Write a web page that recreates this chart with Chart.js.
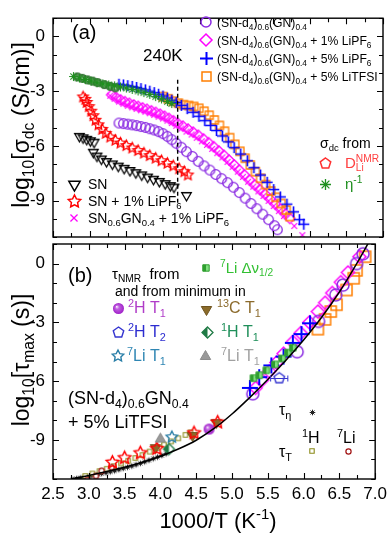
<!DOCTYPE html>
<html>
<head>
<meta charset="utf-8">
<script src="https://cdn.jsdelivr.net/npm/chart.js@4.4.1/dist/chart.umd.min.js"></script>
<style>
  html, body { margin: 0; padding: 0; background: #fff; }
  #wrap { position: relative; width: 392px; height: 541px; }
  #wrap canvas { position: absolute; left: 0; top: 0; }
</style>
</head>
<body>
<div id="wrap">
  <canvas id="chartA" width="392" height="541"></canvas>
  <canvas id="chartB" width="392" height="541"></canvas>
</div>
<script>
const FONT = "'Liberation Sans', Arial, sans-serif";

// ---- axes ----
const xTicks = [2.5, 2.75, 3, 3.25, 3.5, 3.75, 4, 4.25, 4.5, 4.75, 5, 5.25, 5.5, 5.75, 6, 6.25, 6.5, 6.75, 7];
const xLabels = [2.5, 3, 3.5, 4, 4.5, 5, 5.5, 6, 6.5, 7];
const yTicks = [-11, -10, -9, -8, -7, -6, -5, -4, -3, -2, -1, 0, 1];
const yLabels = [-9, -6, -3, 0];

// ---- panel (a): log10 sigma_dc vs 1000/T ----
const aPurple = [[3.40,-4.75],[3.46,-4.78],[3.52,-4.81],[3.58,-4.85],[3.64,-4.89],[3.70,-4.94],[3.76,-4.99],[3.82,-5.06],[3.88,-5.13],[3.94,-5.22],[4.00,-5.33],[4.06,-5.48],[4.12,-5.66],[4.18,-5.86],[4.25,-6.08],[4.32,-6.32],[4.40,-6.58],[4.48,-6.85],[4.56,-7.10],[4.64,-7.33],[4.72,-7.57],[4.80,-7.80],[4.88,-8.02],[4.96,-8.27],[5.04,-8.56],[5.12,-8.87],[5.20,-9.16],[5.28,-9.45],[5.36,-9.75],[5.44,-10.05],[5.52,-10.38],[5.56,-10.60]];
const aDiamond = [[3.30,-3.20],[3.36,-3.35],[3.42,-3.48],[3.48,-3.58],[3.54,-3.67],[3.60,-3.76],[3.66,-3.84],[3.72,-3.92],[3.78,-4.00],[3.84,-4.08],[3.90,-4.17],[3.96,-4.27],[4.02,-4.38],[4.08,-4.50],[4.14,-4.63],[4.20,-4.77],[4.27,-4.92],[4.34,-5.08],[4.41,-5.25],[4.48,-5.42],[4.55,-5.62],[4.62,-5.83],[4.69,-6.05],[4.76,-6.28],[4.83,-6.52],[4.90,-6.78],[4.97,-7.05],[5.04,-7.33],[5.11,-7.60],[5.18,-7.88],[5.25,-8.15],[5.32,-8.40],[5.39,-8.65],[5.46,-8.92],[5.53,-9.20],[5.60,-9.47],[5.67,-9.75],[5.73,-9.98]];
const aCrossX = [[3.28,-3.25],[3.34,-3.42],[3.40,-3.57],[3.46,-3.69],[3.52,-3.80],[3.58,-3.89],[3.64,-3.97],[3.70,-4.05],[3.76,-4.13],[3.82,-4.21],[3.88,-4.30],[3.94,-4.40],[4.00,-4.50],[4.06,-4.62],[4.12,-4.75],[4.18,-4.90],[4.25,-5.05],[4.32,-5.22],[4.39,-5.38],[4.46,-5.56],[4.53,-5.75],[4.60,-5.95],[4.67,-6.17],[4.74,-6.40],[4.81,-6.63],[4.88,-6.88],[4.95,-7.15],[5.02,-7.42],[5.09,-7.70],[5.16,-7.97],[5.23,-8.24],[5.30,-8.50],[5.37,-8.75],[5.44,-9.02],[5.51,-9.30],[5.58,-9.58],[5.65,-9.85],[5.79,-10.40],[5.90,-10.90]];
const aBlue = [[3.40,-2.62],[3.46,-2.66],[3.52,-2.70],[3.58,-2.74],[3.64,-2.80],[3.70,-2.86],[3.76,-2.93],[3.82,-3.00],[3.88,-3.08],[3.94,-3.17],[4.00,-3.27],[4.06,-3.38],[4.12,-3.50],[4.18,-3.63],[4.25,-3.78],[4.33,-3.96],[4.41,-4.16],[4.49,-4.38],[4.57,-4.62],[4.65,-4.88],[4.73,-5.16],[4.81,-5.46],[4.89,-5.78],[4.97,-6.10],[5.06,-6.45],[5.15,-6.82],[5.24,-7.20],[5.33,-7.60],[5.42,-8.00],[5.51,-8.40],[5.60,-8.80],[5.69,-9.20],[5.78,-9.62],[5.86,-10.05],[5.92,-10.30]];
const aOrange = [[4.00,-3.30],[4.07,-3.42],[4.14,-3.55],[4.21,-3.66],[4.28,-3.74],[4.35,-3.79],[4.42,-3.84],[4.49,-3.94],[4.56,-4.10],[4.63,-4.32],[4.70,-4.58],[4.77,-4.88],[4.84,-5.20],[4.91,-5.55],[4.98,-5.92],[5.05,-6.30],[5.12,-6.68],[5.19,-7.05],[5.26,-7.42],[5.33,-7.78],[5.40,-8.13],[5.47,-8.48],[5.54,-8.82],[5.61,-9.16],[5.68,-9.52],[5.73,-9.88]];
const aRedStar = [[2.91,-3.32],[2.94,-3.45],[2.96,-3.62],[2.99,-3.85],[3.02,-4.10],[3.05,-4.35],[3.08,-4.60],[3.12,-4.85],[3.17,-5.10],[3.22,-5.32],[3.28,-5.52],[3.35,-5.70],[3.42,-5.85],[3.50,-5.99],[3.58,-6.12],[3.66,-6.26],[3.74,-6.40],[3.82,-6.54],[3.90,-6.68],[3.98,-6.82],[4.06,-6.96],[4.14,-7.10],[4.22,-7.26],[4.29,-7.42],[4.34,-7.60]];
const aSN = [[2.86,-5.48],[2.91,-5.56],[2.96,-5.64],[3.01,-5.72],[3.06,-5.80],[3.05,-6.35],[3.10,-6.56],[3.16,-6.72],[3.23,-6.86],[3.31,-6.99],[3.39,-7.11],[3.47,-7.23],[3.55,-7.35],[3.63,-7.47],[3.71,-7.59],[3.79,-7.71],[3.87,-7.83],[3.95,-7.95],[4.03,-8.07],[4.10,-8.18],[4.15,-8.26],[4.32,-8.72]];
const aEta = [[2.78,-2.20],[2.86,-2.28],[2.94,-2.36],[3.02,-2.45],[3.10,-2.54],[3.18,-2.60],[3.26,-2.66],[3.34,-2.71],[3.42,-2.77],[3.50,-2.83],[3.58,-2.91],[3.66,-2.99],[3.74,-3.08],[3.82,-3.18],[3.90,-3.30],[3.98,-3.43],[4.06,-3.57],[4.12,-3.68]];
const aBall = [[2.83,-2.22],[2.90,-2.30],[2.97,-2.38],[3.04,-2.45],[3.11,-2.53],[3.20,-2.64],[3.28,-2.74],[3.35,-2.82]];
const aLine240K = [[4.2,-2.37],[4.2,-9.2]];

// ---- panel (b): log10 tau_max vs 1000/T ----
const bCurve = [[2.75,-11.0],[3.0,-10.82],[3.25,-10.62],[3.5,-10.4],[3.75,-10.14],[4.0,-9.84],[4.25,-9.47],[4.5,-9.02],[4.75,-8.42],[5.0,-7.68],[5.25,-6.83],[5.5,-5.92],[5.75,-4.95],[6.0,-3.9],[6.25,-2.75],[6.5,-1.45],[6.75,0.05],[6.92,1.15]];
const bPurple = [[5.29,-6.65],[5.91,-4.50],[6.21,-2.95],[6.45,-1.60],[6.55,-1.10],[6.74,0.00],[6.83,0.50]];
const bMagenta = [[5.33,-6.35],[5.42,-5.95],[5.52,-5.50],[5.62,-5.05],[5.72,-4.60],[5.85,-4.00],[5.96,-3.55],[6.08,-3.00],[6.20,-2.45],[6.30,-2.00],[6.40,-1.50],[6.52,-0.95],[6.62,-0.45],[6.78,0.35]];
const bOrange = [[6.20,-3.35],[6.30,-2.85],[6.38,-2.45],[6.46,-2.10],[6.60,-1.35],[6.70,-0.75],[6.74,-0.35],[6.86,0.35]];
const bBlue = [[5.25,-6.35],[5.38,-5.80],[5.55,-5.20],[5.72,-4.75],[5.85,-4.05],[5.97,-3.60],[6.09,-3.05]];
const bLiWidth = [[5.30,-5.85],[5.38,-5.70],[5.48,-5.45],[5.60,-5.15],[5.70,-4.85],[5.78,-4.55],[5.85,-4.30]];
const bH2T2 = [[5.66,-5.85]];
const bH2T2Err = [0.12];
const bRedStar = [[3.33,-10.15],[3.50,-9.92],[3.72,-9.67],[3.95,-9.45],[4.47,-8.65],[4.80,-8.10]];
const bC13 = [[3.93,-9.40],[4.45,-8.78],[4.78,-8.12]];
const bH2T1 = [[4.68,-8.45]];
const bLi7T1grey = [[4.00,-8.96]];
const bLi7T1 = [[4.16,-8.86]];
const bH1T1 = [[4.12,-9.47]];
const bTauEta = [[2.78,-11.02],[2.83,-10.98],[2.88,-10.95],[2.93,-10.91],[2.98,-10.88],[3.03,-10.84],[3.08,-10.80],[3.13,-10.76],[3.18,-10.72],[3.24,-10.68],[3.30,-10.63],[3.36,-10.58],[3.42,-10.52],[3.48,-10.46],[3.54,-10.40],[3.60,-10.34],[3.66,-10.27],[3.72,-10.20],[3.78,-10.12],[3.84,-10.04],[3.90,-9.96],[3.96,-9.88],[4.02,-9.80],[4.08,-9.71]];
const bTauT1H = [[2.95,-10.85],[3.05,-10.72],[3.15,-10.60],[3.25,-10.48],[3.35,-10.35],[3.45,-10.20],[3.55,-10.07],[3.65,-9.93],[3.75,-9.78],[3.85,-9.60],[3.95,-9.42],[4.05,-9.25],[4.15,-9.08],[4.25,-8.92],[4.35,-8.75],[4.42,-8.62]];
const bTauT7Li = [[2.98,-11.05],[3.10,-10.85],[3.18,-10.58],[3.32,-10.40]];

// symbol sprites, used as Chart.js pointStyle and in the hand-drawn legends
function sym(kind, r, color, o = {}) {
    const lw = o.lw || 1.3;
    const s = Math.ceil(2 * r + lw + 4);
    const c = document.createElement('canvas');
    c.width = c.height = s;
    const g = c.getContext('2d');
    const cx = s / 2, cy = s / 2;
    g.lineWidth = lw;
    g.strokeStyle = color;
    const poly = (n, r0, r1, a0) => {
        g.beginPath();
        for (let i = 0; i < n; i++) {
            const rr = (i % 2 && r1) ? r1 : r0;
            const a = a0 + i * 2 * Math.PI / n;
            const px = cx + rr * Math.cos(a), py = cy + rr * Math.sin(a);
            i ? g.lineTo(px, py) : g.moveTo(px, py);
        }
        g.closePath();
    };
    const d = r * Math.SQRT1_2;
    switch (kind) {
        case 'circle': g.beginPath(); g.arc(cx, cy, r, 0, 2 * Math.PI); break;
        case 'square': g.beginPath(); g.rect(cx - r, cy - r, 2 * r, 2 * r); break;
        case 'diamond': poly(4, r, 0, -Math.PI / 2); break;
        case 'triUp': poly(3, r, 0, -Math.PI / 2); break;
        case 'triDown': poly(3, r, 0, Math.PI / 2); break;
        case 'star': poly(10, r, r * 0.5, -Math.PI / 2); break;
        case 'pent': poly(5, r, 0, -Math.PI / 2); break;
        case 'plus':
            g.beginPath(); g.moveTo(cx - r, cy); g.lineTo(cx + r, cy); g.moveTo(cx, cy - r); g.lineTo(cx, cy + r); break;
        case 'cross':
            g.beginPath(); g.moveTo(cx - d, cy - d); g.lineTo(cx + d, cy + d); g.moveTo(cx + d, cy - d); g.lineTo(cx - d, cy + d); break;
        case 'ast':
            g.beginPath(); g.moveTo(cx - r, cy); g.lineTo(cx + r, cy); g.moveTo(cx, cy - r); g.lineTo(cx, cy + r);
            g.moveTo(cx - d, cy - d); g.lineTo(cx + d, cy + d); g.moveTo(cx + d, cy - d); g.lineTo(cx - d, cy + d); break;
        case 'ball': {
            const hx = cx + (o.hx || 0) * r, hy = cy + (o.hy || 0) * r;
            const gr = g.createRadialGradient(hx, hy, 0, cx, cy, r);
            gr.addColorStop(0, '#ffffff');
            gr.addColorStop(0.35, o.mid || color);
            gr.addColorStop(1, color);
            g.fillStyle = gr;
            g.beginPath(); g.arc(cx, cy, r, 0, 2 * Math.PI); g.fill();
            return c;
        }
    }
    if (o.fill) { g.fillStyle = o.fill; g.fill(); }
    if (o.half) {
        g.save(); g.clip();
        g.fillStyle = o.half;
        g.fillRect(0, 0, cx, s);
        g.restore();
    }
    g.stroke();
    return c;
}

// text with _{sub} and ^{sup}; a ^{} right after a _{} is stacked over it
function rich(ctx, str, x, y, size, color, align) {
    const parts = [];
    const re = /([_^])\{([^}]*)\}|([^_^]+)/g;
    let m;
    while ((m = re.exec(str))) {
        if (m[3] !== undefined) parts.push({ t: m[3], k: '' });
        else parts.push({ t: m[2], k: m[1] });
    }
    let w = 0, prev = null;
    parts.forEach(p => {
        p.fs = p.k ? size * 0.68 : size;
        ctx.font = p.fs + 'px ' + FONT;
        p.w = ctx.measureText(p.t).width;
        if (p.k === '^' && prev && prev.k === '_') { p.stack = true; w += Math.max(0, p.w - prev.w); }
        else w += p.w;
        prev = p;
    });
    let cx = align === 'center' ? x - w / 2 : align === 'right' ? x - w : x;
    ctx.fillStyle = color || '#000';
    ctx.textAlign = 'left';
    ctx.textBaseline = 'alphabetic';
    let last = null, lastX = 0;
    parts.forEach(p => {
        ctx.font = p.fs + 'px ' + FONT;
        const dy = p.k === '_' ? size * 0.22 : p.k === '^' ? -size * 0.4 : 0;
        if (p.stack) {
            ctx.fillText(p.t, lastX, y + dy);
            cx = lastX + Math.max(last.w, p.w);
        } else {
            ctx.fillText(p.t, cx, y + dy);
            lastX = cx;
            cx += p.w;
        }
        last = p;
    });
}

function put(ctx, sprite, x, y) {
    ctx.drawImage(sprite, Math.round(x - sprite.width / 2), Math.round(y - sprite.height / 2));
}

function yTitle(ctx, str, x, y) {
    ctx.save();
    ctx.translate(x, y);
    ctx.rotate(-Math.PI / 2);
    rich(ctx, str, 0, 0, 23, '#000', 'center');
    ctx.restore();
}

// box with inward ticks on all four sides
function drawFrame(chart) {
    const { ctx, chartArea: a, scales: { x, y } } = chart;
    ctx.save();
    ctx.strokeStyle = '#000';
    ctx.lineWidth = 1.1;
    ctx.beginPath();
    xTicks.forEach(v => {
        const px = Math.round(x.getPixelForValue(v)) + 0.5;
        const L = xLabels.includes(v) ? 6 : 4;
        ctx.moveTo(px, a.bottom); ctx.lineTo(px, a.bottom - L);
        ctx.moveTo(px, a.top); ctx.lineTo(px, a.top + L);
    });
    yTicks.forEach(v => {
        const py = Math.round(y.getPixelForValue(v)) + 0.5;
        const L = yLabels.includes(v) ? 6 : 4;
        ctx.moveTo(a.left, py); ctx.lineTo(a.left + L, py);
        ctx.moveTo(a.right, py); ctx.lineTo(a.right - L, py);
    });
    ctx.stroke();
    ctx.lineWidth = 1.4;
    ctx.strokeRect(a.left, a.top, a.right - a.left, a.bottom - a.top);
    ctx.restore();
}

const S = {
    purple: sym('circle', 4.8, '#8a2be2'),
    diamond: sym('diamond', 5.2, '#ff00ff'),
    xMag: sym('cross', 4, '#ff00ff', { lw: 1.2 }),
    plus: sym('plus', 5.5, '#0000ff', { lw: 1.6 }),
    square: sym('square', 4, '#ff7f00'),
    redStar: sym('star', 5.5, '#ff0000'),
    tri: sym('triDown', 5.5, '#000'),
    eta: sym('ast', 4.5, '#1f8f1f', { lw: 1.1 }),
    ball: sym('ball', 4.5, '#2d6a2d', { mid: '#6a9a6a' }),
    // legend sizes
    Lpurple: sym('circle', 5, '#8a2be2', { lw: 1.5 }),
    Ldiamond: sym('diamond', 6, '#ff00ff', { lw: 1.5 }),
    Lplus: sym('plus', 6.5, '#0000ff', { lw: 2 }),
    Lsquare: sym('square', 4.5, '#ff7f00', { lw: 1.5 }),
    Ltri: sym('triDown', 6.5, '#000', { lw: 1.5 }),
    LredStar: sym('star', 6.5, '#ff0000', { lw: 1.5 }),
    LxMag: sym('cross', 5, '#ff00ff', { lw: 1.3 }),
    Lpent: sym('pent', 5.5, '#ff3030', { lw: 1.5 }),
    Leta: sym('ast', 5.5, '#1f8f1f', { lw: 1.3 }),
    // panel b
    bPurple: sym('circle', 6, '#8a2be2', { lw: 1.5 }),
    bDiamond: sym('diamond', 6.5, '#ff00ff', { lw: 1.5 }),
    bSquare: sym('square', 5.5, '#ff7f00', { lw: 1.5 }),
    bPlus: sym('plus', 8, '#0000ff', { lw: 2 }),
    liWidth: sym('square', 3.2, '#2f9f2f', { lw: 1, fill: '#7fe07f', half: '#2f9f2f' }),
    h2t2: sym('pent', 5.5, '#3535d0', { lw: 1.4 }),
    h2t1: sym('ball', 5.5, '#a020c8', { hx: -0.35, hy: -0.35, mid: '#c060e0' }),
    c13: sym('triDown', 6, '#6f5420', { lw: 1, fill: '#8b6b2a' }),
    h1t1: sym('diamond', 5.5, '#1f7a45', { lw: 1.3, fill: '#ffffff', half: '#1f7a45' }),
    li7t1: sym('star', 6, '#2a7fa8', { lw: 1.4 }),
    li7t1grey: sym('triUp', 6, '#8c8c8c', { lw: 1, fill: '#999999' }),
    tauEta: sym('ast', 2.8, '#222', { lw: 1 }),
    tauT1H: sym('square', 2.2, '#8b8b1a', { lw: 1.1, fill: '#ffffff' }),
    tauT7Li: sym('circle', 2.6, '#a01010', { lw: 1.2, fill: '#ffffff' }),
    bRedStar: sym('star', 6.5, '#ff0000', { lw: 1.5 })
};

const pts = arr => arr.map(([x, y]) => ({ x, y }));
const ds = (arr, style) => ({ data: pts(arr), pointStyle: style, showLine: false, clip: 0 });

function scales(showX) {
    return {
        x: {
            type: 'linear', min: 2.5, max: 7, display: showX,
            afterBuildTicks: s => { s.ticks = xLabels.map(v => ({ value: v })); },
            afterFit: s => { if (showX) s.height = 62; },
            grid: { display: false, drawTicks: false },
            border: { display: false },
            ticks: { color: '#000', padding: 5, maxRotation: 0, font: { family: FONT, size: 17 } }
        },
        y: {
            type: 'linear', min: -11, max: 1,
            afterBuildTicks: s => { s.ticks = yLabels.map(v => ({ value: v })); },
            afterFit: s => { s.width = 53; },
            grid: { display: false, drawTicks: false },
            border: { display: false },
            ticks: { color: '#000', padding: 8, font: { family: FONT, size: 17 } }
        }
    };
}

// 1. Panel (a)
const panelA = {
    id: 'panelA',
    afterDraw(chart) {
        const ctx = chart.ctx;
        drawFrame(chart);
        ctx.save();
        rich(ctx, '(a)', 72, 39, 20);
        rich(ctx, '240K', 143, 61, 17);
        const rows = [
            [S.Lpurple, '(SN-d_{4})_{0.6}(GN)_{0.4}'],
            [S.Ldiamond, '(SN-d_{4})_{0.6}(GN)_{0.4} + 1% LiPF_{6}'],
            [S.Lplus, '(SN-d_{4})_{0.6}(GN)_{0.4} + 5% LiPF_{6}'],
            [S.Lsquare, '(SN-d_{4})_{0.6}(GN)_{0.4} + 5% LiTFSI']
        ];
        rows.forEach(([s, t], i) => {
            put(ctx, s, 206, 22 + 18 * i);
            rich(ctx, t, 217, 27 + 18 * i, 12.2);
        });
        const rowsL = [
            [S.Ltri, 'SN'],
            [S.LredStar, 'SN + 1% LiPF_{6}'],
            [S.LxMag, 'SN_{0.6}GN_{0.4} + 1% LiPF_{6}']
        ];
        rowsL.forEach(([s, t], i) => {
            put(ctx, s, 74, 184 + 17 * i);
            rich(ctx, t, 88, 189 + 17 * i, 14);
        });
        rich(ctx, 'σ_{dc} from', 320, 148, 14);
        put(ctx, S.Lpent, 325, 163);
        rich(ctx, 'D_{Li}^{NMR}', 345, 168, 15, '#ff4040');
        put(ctx, S.Leta, 325, 184);
        rich(ctx, 'η^{-1}', 345, 189, 15, '#1f8f1f');
        yTitle(ctx, 'log_{10}[σ_{dc} (S/cm)]', 29, 125);
        ctx.restore();
    }
};

new Chart(document.getElementById('chartA'), {
    type: 'scatter',
    data: {
        datasets: [
            { data: pts(aLine240K), showLine: true, borderColor: '#000', borderWidth: 1.4, borderDash: [4, 3], pointRadius: 0, clip: 0 },
            ds(aEta, S.eta),
            ds(aBall, S.ball),
            ds(aBlue, S.plus),
            ds(aOrange, S.square),
            ds(aCrossX, S.xMag),
            ds(aDiamond, S.diamond),
            ds(aPurple, S.purple),
            ds(aRedStar, S.redStar),
            ds(aSN, S.tri)
        ]
    },
    options: {
        responsive: false,
        animation: false,
        layout: { padding: { left: 0, top: 2, right: 9, bottom: 304 } },
        plugins: { legend: { display: false }, tooltip: { enabled: false } },
        scales: scales(false)
    },
    plugins: [panelA]
});

// 2. Panel (b)
const panelB = {
    id: 'panelB',
    afterDatasetsDraw(chart) {
        const { ctx, scales: { x, y } } = chart;
        ctx.save();
        ctx.strokeStyle = '#3535d0';
        ctx.lineWidth = 1;
        ctx.beginPath();
        bH2T2.forEach(([vx, vy], i) => {
            const x0 = x.getPixelForValue(vx - bH2T2Err[i]), x1 = x.getPixelForValue(vx + bH2T2Err[i]);
            const py = Math.round(y.getPixelForValue(vy)) + 0.5;
            ctx.moveTo(x0, py); ctx.lineTo(x1, py);
            ctx.moveTo(x0, py - 3); ctx.lineTo(x0, py + 3);
            ctx.moveTo(x1, py - 3); ctx.lineTo(x1, py + 3);
        });
        ctx.stroke();
        ctx.restore();
    },
    afterDraw(chart) {
        const ctx = chart.ctx;
        drawFrame(chart);
        ctx.save();
        rich(ctx, '(b)', 68, 282, 20);
        rich(ctx, 'τ_{NMR}  from', 112, 279, 15);
        put(ctx, S.liWidth, 206, 268);
        rich(ctx, '^{7}Li Δν_{1/2}', 220, 273, 15, '#33c033');
        rich(ctx, 'and from minimum in', 115, 296, 14);
        put(ctx, S.h2t1, 118, 308);
        rich(ctx, '^{2}H T_{1}', 128, 313, 16, '#b03cc8');
        put(ctx, S.c13, 206, 309);
        rich(ctx, '^{13}C T_{1}', 217, 313, 16, '#8b6a2b');
        put(ctx, S.h2t2, 118, 332);
        rich(ctx, '^{2}H T_{2}', 128, 337, 16, '#2c2cd0');
        put(ctx, S.h1t1, 207, 332);
        rich(ctx, '^{1}H T_{1}', 221, 337, 16, '#1f8f5a');
        put(ctx, S.li7t1, 118, 356);
        rich(ctx, '^{7}Li T_{1}', 127, 361, 16, '#2f86b3');
        put(ctx, S.li7t1grey, 205, 356);
        rich(ctx, '^{7}Li T_{1}', 221, 361, 16, '#a0a0a0');
        rich(ctx, '(SN-d_{4})_{0.6}GN_{0.4}', 68, 404, 18);
        rich(ctx, '+ 5% LiTFSI', 68, 428, 18);
        rich(ctx, 'τ_{η}', 279, 415, 16);
        put(ctx, S.tauEta, 312, 412);
        rich(ctx, '^{1}H', 302, 443, 16);
        rich(ctx, '^{7}Li', 337, 443, 16);
        rich(ctx, 'τ_{T}', 279, 457, 16);
        put(ctx, S.tauT1H, 312, 451);
        put(ctx, S.tauT7Li, 348, 451);
        yTitle(ctx, 'log_{10}[τ_{max} (s)]', 29, 360);
        rich(ctx, '1000/T (K^{-1})', 218, 528, 22, '#000', 'center');
        ctx.restore();
    }
};

new Chart(document.getElementById('chartB'), {
    type: 'scatter',
    data: {
        datasets: [
            { data: pts(bCurve), showLine: true, borderColor: '#000', borderWidth: 1.5, pointRadius: 0, cubicInterpolationMode: 'monotone', clip: 0 },
            ds(bH2T2, S.h2t2),
            ds(bLiWidth, S.liWidth),
            ds(bBlue, S.bPlus),
            ds(bPurple, S.bPurple),
            ds(bMagenta, S.bDiamond),
            ds(bOrange, S.bSquare),
            ds(bH2T1, S.h2t1),
            ds(bLi7T1, S.li7t1),
            ds(bLi7T1grey, S.li7t1grey),
            ds(bH1T1, S.h1t1),
            ds(bRedStar, S.bRedStar),
            ds(bC13, S.c13),
            ds(bTauT7Li, S.tauT7Li),
            ds(bTauT1H, S.tauT1H),
            ds(bTauEta, S.tauEta)
        ]
    },
    options: {
        responsive: false,
        animation: false,
        layout: { padding: { left: 0, top: 244, right: 9, bottom: 0 } },
        plugins: { legend: { display: false }, tooltip: { enabled: false } },
        scales: scales(true)
    },
    plugins: [panelB]
});
</script>
</body>
</html>
